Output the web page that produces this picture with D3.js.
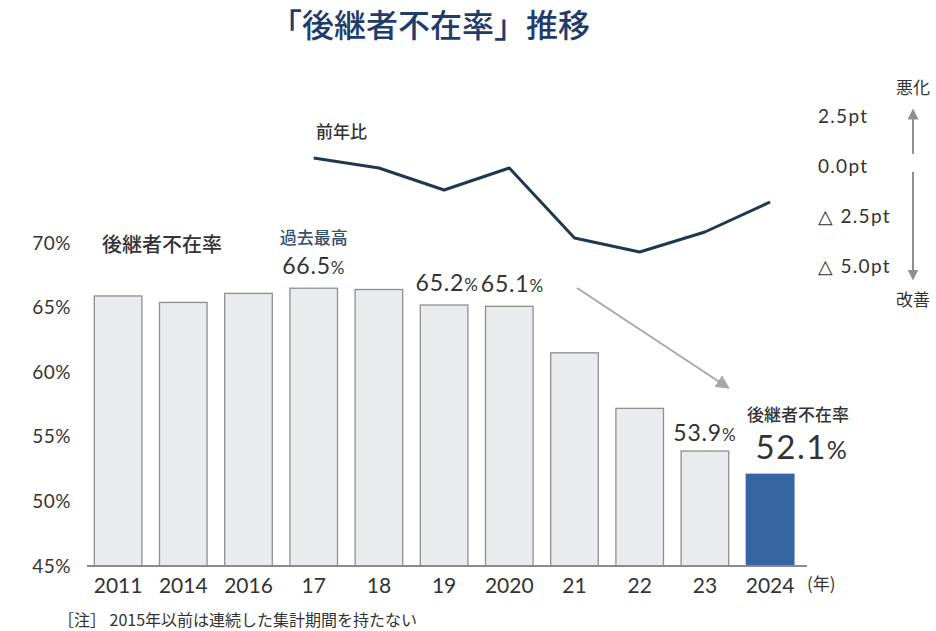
<!DOCTYPE html>
<html><head><meta charset="utf-8">
<script src="https://cdn.jsdelivr.net/npm/d3@7"></script>
<style>
body{margin:0;background:#fff;}
svg{display:block;}
.jp{font-family:"Noto Sans CJK JP","Noto Sans",sans-serif;}
.num{font-family:Lato,"Noto Sans",sans-serif;}
</style></head>
<body>
<svg id="c" width="936" height="631"></svg>
<script>
// ---- data ----
const years = ["2011","2014","2016","17","18","19","2020","21","22","23","2024"];
const rates = [65.9, 65.4, 66.1, 66.5, 66.4, 65.2, 65.1, 61.5, 57.2, 53.9, 52.1];
const yoyYears = ["17","18","19","2020","21","22","23","2024"];
const yoyValues = [0.4, -0.1, -1.2, -0.1, -3.6, -4.3, -3.3, -1.8];
const leftTicks = [45, 50, 55, 60, 65, 70];
const rightTicks = [2.5, 0, -2.5, -5];
const rightTickLabels = ["2.5pt", "0.0pt", "△ 2.5pt", "△ 5.0pt"];
const valueLabels = [
  {year:"17", v:66.5},
  {year:"19", v:65.2},
  {year:"2020", v:65.1},
  {year:"23", v:53.9}
];

const svg = d3.select("#c");
const x = d3.scaleBand().domain(years).range([85.5, 802.7]).paddingInner(0.27).paddingOuter(0.135);
const y = d3.scaleLinear().domain([45, 70]).range([566, 243]);
const yR = d3.scaleLinear().domain([-5, 2.5]).range([266, 116]);

// title
svg.append("text").attr("class","jp").attr("x",430).attr("y",37)
  .attr("text-anchor","middle").attr("font-size",32).attr("font-weight",500)
  .attr("fill","#1f3d6b").text("「後継者不在率」推移");

// bars
svg.append("g").selectAll("rect").data(years).join("rect")
  .attr("x", d => x(d)).attr("width", x.bandwidth())
  .attr("y", (d,i) => y(rates[i])).attr("height", (d,i) => y(45) - y(rates[i]))
  .attr("fill", (d,i) => i === years.length-1 ? "#3566a2" : "#e9ebee")
  .attr("stroke", (d,i) => i === years.length-1 ? "#3566a2" : "#8f8f8f")
  .attr("stroke-width", 1.3);

// left axis
const gl = svg.append("g").attr("transform","translate(71,0)")
  .call(d3.axisLeft(y).tickValues(leftTicks).tickFormat(d => d + "%").tickSize(0).tickPadding(0));
gl.select(".domain").remove();
gl.selectAll("text").attr("class","num").attr("font-size",19).attr("letter-spacing",0.5).attr("fill","#333");

// bottom axis
const gb = svg.append("g").attr("transform","translate(0,566)")
  .call(d3.axisBottom(x).tickSize(0).tickPadding(12));
gb.select(".domain").attr("stroke","#8a8a8a").attr("stroke-width",2).attr("d","M87,0H807");
gb.selectAll("text").attr("class","num").attr("font-size",21).attr("fill","#333");
svg.append("text").attr("class","jp").attr("x",807).attr("y",590)
  .attr("font-size",17).attr("fill","#333").text("(年)");

// right axis
const gr = svg.append("g").attr("transform","translate(818,0)")
  .call(d3.axisRight(yR).tickValues(rightTicks).tickFormat((d,i) => rightTickLabels[i]).tickSize(0).tickPadding(0));
gr.select(".domain").remove();
gr.selectAll("text").attr("class","num").attr("font-size",19).attr("letter-spacing",1.3).attr("fill","#333");

// up/down arrows
const defs = svg.append("defs");
defs.append("marker").attr("id","ah").attr("viewBox","0 0 10 10").attr("refX",5).attr("refY",5)
  .attr("markerWidth",5.5).attr("markerHeight",5.5).attr("orient","auto-start-reverse")
  .append("path").attr("d","M0,0L10,5L0,10z").attr("fill","#8f8f8f");
defs.append("marker").attr("id","ah2").attr("viewBox","0 0 10 10").attr("refX",5).attr("refY",5)
  .attr("markerWidth",7).attr("markerHeight",7).attr("orient","auto")
  .append("path").attr("d","M0,0L10,5L0,10z").attr("fill","#a8a8a8");
svg.append("line").attr("x1",913).attr("x2",913).attr("y1",yR(0)-12).attr("y2",yR(2.5)-2)
  .attr("stroke","#8f8f8f").attr("stroke-width",2).attr("marker-end","url(#ah)");
svg.append("line").attr("x1",913).attr("x2",913).attr("y1",yR(0)+6).attr("y2",yR(-5)+9)
  .attr("stroke","#8f8f8f").attr("stroke-width",2).attr("marker-end","url(#ah)");
svg.append("text").attr("class","jp").attr("x",913).attr("y",94).attr("text-anchor","middle")
  .attr("font-size",17).attr("fill","#333").text("悪化");
svg.append("text").attr("class","jp").attr("x",913).attr("y",306).attr("text-anchor","middle")
  .attr("font-size",17).attr("fill","#333").text("改善");

// yoy line
const line = d3.line().x((d,i) => x(yoyYears[i]) + x.bandwidth()/2).y(d => yR(d));
svg.append("path").datum(yoyValues).attr("d", line)
  .attr("fill","none").attr("stroke","#1f3850").attr("stroke-width",3).attr("stroke-linejoin","round");
svg.append("text").attr("class","jp").attr("x",316).attr("y",138)
  .attr("font-size",17).attr("font-weight",500).attr("fill","#333").text("前年比");

// labels
svg.append("text").attr("class","jp").attr("x",102).attr("y",252)
  .attr("font-size",20).attr("font-weight",500).attr("fill","#333").text("後継者不在率");
svg.append("text").attr("class","jp").attr("x",x("17")+x.bandwidth()/2).attr("y",244)
  .attr("text-anchor","middle").attr("font-size",17).attr("font-weight",500).attr("fill","#34506f").text("過去最高");

const lbl = svg.append("g").selectAll("text").data(valueLabels).join("text")
  .attr("class","num").attr("text-anchor","middle").attr("fill","#333").attr("letter-spacing",0.8)
  .attr("x", d => x(d.year) + x.bandwidth()/2 + (d.year === "19" ? 3 : d.year === "2020" ? 3 : 0))
  .attr("y", d => y(d.v) - (d.year === "23" ? 10 : 14));
lbl.append("tspan").attr("font-size",23).text(d => d.v.toFixed(1));
lbl.append("tspan").attr("font-size",17).text("%");

// 2024 highlight
const last = years.length - 1;
svg.append("text").attr("class","jp").attr("x",798).attr("y",421).attr("text-anchor","middle")
  .attr("font-size",17).attr("font-weight",500).attr("fill","#333").text("後継者不在率");
const big = svg.append("text").attr("class","num").attr("x",802).attr("y",459).attr("text-anchor","middle")
  .attr("fill","#333").attr("letter-spacing",1.5);
big.append("tspan").attr("font-size",33).text(rates[last].toFixed(1));
big.append("tspan").attr("font-size",25).text("%");

// trend arrow
svg.append("line").attr("x1",577).attr("y1",288).attr("x2",724).attr("y2",385)
  .attr("stroke","#a8a8a8").attr("stroke-width",2).attr("marker-end","url(#ah2)");

// note
svg.append("text").attr("class","jp").attr("x",58).attr("y",626)
  .attr("font-size",16).attr("fill","#333").text("［注］ 2015年以前は連続した集計期間を持たない");
</script>
</body></html>
